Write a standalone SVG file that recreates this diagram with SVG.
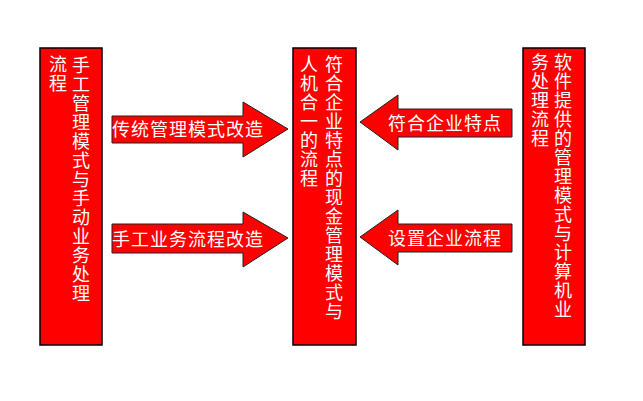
<svg xmlns="http://www.w3.org/2000/svg" width="643" height="401" viewBox="0 0 643 401">
<style>
.box{fill:#ff0000;stroke:#000;stroke-width:1.5}
.arr{fill:#ff0000;stroke:#222;stroke-width:1}
.t{font-family:"Noto Sans CJK SC","Liberation Sans",sans-serif;font-size:18px;fill:#fff;letter-spacing:1px}
.v{writing-mode:vertical-rl}
</style>
<rect width="643" height="401" fill="#fff"/>
<g id="connectors">
<g id="arrow1">
<polygon class="arr" points="112,116 243,116 243,102 288,129 243,157 243,143 112,143"/>
<text class="t" x="112" y="136">传统管理模式改造</text>
</g>
<g id="arrow2">
<polygon class="arr" points="112,224 243,224 243,212 288,238 243,267 243,253 112,253"/>
<text class="t" x="112" y="246">手工业务流程改造</text>
</g>
<g id="arrow3">
<polygon class="arr" points="512,109 398,109 398,95 360,122 398,150 398,137 512,137"/>
<text class="t" x="388" y="130">符合企业特点</text>
</g>
<g id="arrow4">
<polygon class="arr" points="512,224 398,224 398,210 360,237 398,265 398,252 512,252"/>
<text class="t" x="388" y="245">设置企业流程</text>
</g>
</g>
<g id="node-left">
<rect class="box" x="40" y="48" width="62" height="297"/>
<text class="t v" x="81" y="56">手工管理模式与手动业务处理</text>
<text class="t v" x="58" y="55">流程</text>
</g>
<g id="node-middle">
<rect class="box" x="293" y="48" width="63" height="297"/>
<text class="t v" x="334" y="55">符合企业特点的现金管理模式与</text>
<text class="t v" x="309" y="55">人机合一的流程</text>
</g>
<g id="node-right">
<rect class="box" x="523" y="48" width="62" height="297"/>
<text class="t v" x="563" y="53">软件提供的管理模式与计算机业</text>
<text class="t v" x="540" y="53">务处理流程</text>
</g>
</svg>
